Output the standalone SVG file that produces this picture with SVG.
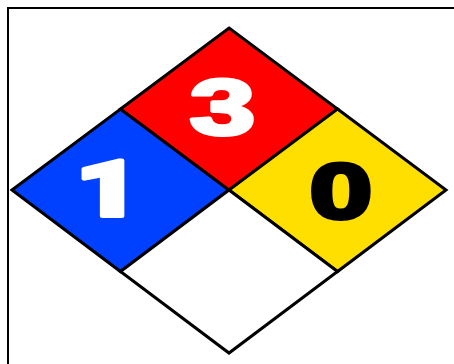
<svg xmlns="http://www.w3.org/2000/svg" width="454" height="364" viewBox="0 0 454 364">
<style>
.q{stroke:#000;stroke-width:3;stroke-linejoin:miter}
.n{font-family:"Liberation Sans",Arial,sans-serif;font-weight:bold;font-size:78px;text-anchor:middle;stroke-width:4;stroke-linejoin:round}
.r{font-family:Roboto,"Liberation Sans",sans-serif;font-weight:900}
</style>
<rect x="0" y="0" width="454" height="364" fill="#fff"/>
<path d="M8,364 V8 H454" fill="none" stroke="#000" stroke-width="2"/>
<g id="health">
<polygon class="q" points="12,190 120.5,109 229,190 120.5,271.5" fill="#0040FF"/>
<text class="n r" fill="#fff" stroke="#fff" transform="translate(108,216) scale(1.45,1)">1</text>
</g>
<g id="flammability">
<polygon class="q" points="229,28 337.5,109 229,190 120.5,109" fill="#FF0000"/>
<text class="n" fill="#fff" stroke="#fff" transform="translate(222.5,134) scale(1.5,1)">3</text>
</g>
<g id="instability">
<polygon class="q" points="337.5,109 446,190 337.5,271.5 229,190" fill="#FFDF00"/>
<text class="n" fill="#000" stroke="#000" transform="translate(341,218) scale(1.45,1)">0</text>
</g>
<g id="special">
<polygon class="q" points="229,190 337.5,271.5 229,353 120.5,271.5" fill="#fff"/>
</g>
</svg>
